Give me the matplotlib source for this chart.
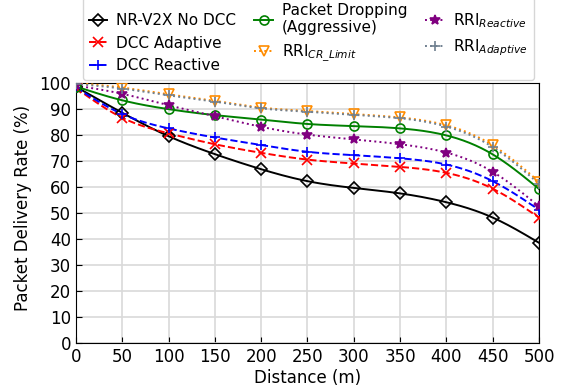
import numpy as np
import matplotlib
matplotlib.use("Agg")
import matplotlib.pyplot as plt
from matplotlib.lines import Line2D

distance = [0, 50, 100, 150, 200, 250, 300, 350, 400, 450, 500]
no_dcc = [98.5, 88.5, 79.5, 72.6, 66.8, 62.2, 59.6, 57.5, 54.1, 48.2, 38.5]
dcc_adaptive = [98.0, 86.6, 80.6, 76.4, 73.1, 70.5, 69.0, 67.7, 65.4, 59.3, 48.2]
dcc_reactive = [98.2, 88.0, 82.5, 79.0, 76.1, 73.5, 72.2, 71.0, 68.6, 62.2, 51.2]
pkt_dropping = [98.6, 93.3, 89.9, 87.6, 85.9, 84.2, 83.4, 82.5, 79.8, 72.5, 59.2]
rri_reactive = [99.0, 95.8, 91.4, 87.2, 83.1, 80.1, 78.3, 76.4, 73.2, 65.8, 52.5]
rri_cr_limit = [100.0, 98.2, 95.6, 93.1, 90.5, 89.2, 88.0, 86.7, 83.7, 76.0, 62.0]
rri_adaptive = [99.6, 97.8, 95.2, 92.8, 90.2, 88.9, 87.7, 86.4, 83.2, 75.3, 61.2]

labels = ["NR-V2X No DCC", "DCC Adaptive", "DCC Reactive",
          "Packet Dropping\n(Aggressive)", r"RRI$_{CR\_Limit}$",
          r"RRI$_{Reactive}$", r"RRI$_{Adaptive}$"]
series = [no_dcc, dcc_adaptive, dcc_reactive, pkt_dropping, rri_cr_limit, rri_reactive, rri_adaptive]
colors = ["black", "red", "blue", "green", "darkorange", "purple", "slategray"]
markers = ["D", "x", "+", "o", "v", "*", "+"]
styles = ["-", "--", "--", "-", ":", ":", ":"]


def spline(x, y, n=300):
    x = np.asarray(x, float); y = np.asarray(y, float)
    m = len(x); h = np.diff(x)
    A = np.zeros((m, m)); b = np.zeros(m)
    A[0, 0] = A[-1, -1] = 1
    for i in range(1, m - 1):
        A[i, i - 1] = h[i - 1]; A[i, i] = 2 * (h[i - 1] + h[i]); A[i, i + 1] = h[i]
        b[i] = 3 * ((y[i + 1] - y[i]) / h[i] - (y[i] - y[i - 1]) / h[i - 1])
    c = np.linalg.solve(A, b)
    xs = np.linspace(x[0], x[-1], n)
    idx = np.clip(np.searchsorted(x, xs) - 1, 0, m - 2)
    dx = xs - x[idx]
    bb = (y[1:] - y[:-1]) / h - h * (2 * c[:-1] + c[1:]) / 3
    d = (c[1:] - c[:-1]) / (3 * h)
    ys = y[idx] + bb[idx] * dx + c[idx] * dx ** 2 + d[idx] * dx ** 3
    return xs, ys


fig = plt.figure(figsize=(5.71, 3.91), dpi=100)
ax = fig.add_axes([0.133, 0.123, 0.811, 0.665])

handles = []
for ys, lab, col, mk, ls in zip(series, labels, colors, markers, styles):
    xs, yy = spline(distance, ys)
    lw = 1.4
    ax.plot(xs, yy, color=col, linestyle=ls, lw=lw, zorder=3)
    mfc = "none" if mk in ("D", "o", "v") else col
    ms = {"D": 6, "o": 6.5, "v": 7, "*": 7.5, "x": 6.5, "+": 7}[mk]
    ax.plot(distance, ys, linestyle="none", marker=mk, color=col, mfc=mfc,
            ms=ms, mew=1.2, zorder=4)
    handles.append(Line2D([], [], color=col, linestyle=ls, lw=lw, marker=mk,
                          mfc=mfc, ms=ms, mew=1.2))

ax.set_xlim(0, 500)
ax.set_ylim(0, 100)
ax.set_xticks(distance)
ax.set_yticks(np.arange(0, 101, 10))
ax.tick_params(direction="in", labelsize=12, length=4)
ax.grid(True, color="#d9d9d9", lw=1.2)
ax.set_axisbelow(True)
ax.set_xlabel("Distance (m)", fontsize=12, labelpad=2)
ax.set_ylabel("Packet Delivery Rate (%)", fontsize=12)
ax.yaxis.set_label_coords(-0.095, 0.52)

leg = fig.legend(handles, labels,
                 ncol=3, loc="upper left", bbox_to_anchor=(0.145, 1.008, 0.79, 0.0),
                 mode="expand", fontsize=11, handlelength=1.2, handletextpad=0.6,
                 columnspacing=0.8, labelspacing=0.5, borderaxespad=0.0,
                 frameon=True, fancybox=True)
leg.get_frame().set_edgecolor("#cccccc")

fig.savefig("out.png", dpi=100)
